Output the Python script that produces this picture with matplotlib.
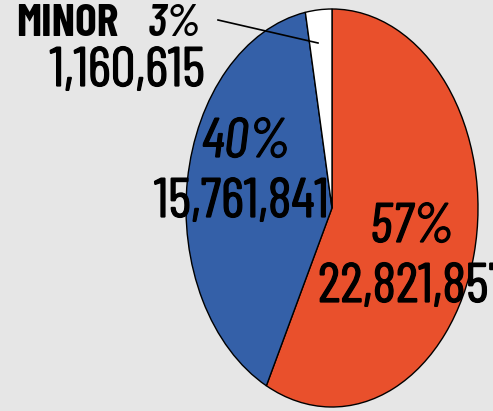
import matplotlib
matplotlib.use('Agg')
import matplotlib.pyplot as plt
import matplotlib.patheffects as pe
from matplotlib import font_manager

# values
labels = ['MAJOR', 'OTHER', 'MINOR']
values = [22821857, 15761841, 1160615]
colors = ['#E9502C', '#3460A8', '#FFFFFF']

names = {f.name for f in font_manager.fontManager.ttflist}
cond = next((n for n in ['Barlow Condensed', 'Roboto Condensed', 'Archivo Narrow']
             if n in names), 'DejaVu Sans')
fam = [cond, 'DejaVu Sans']
# slightly heavier strokes than the regular weight
thick = [pe.withStroke(linewidth=0.9, foreground='black')]

W, H = 493, 411
fig = plt.figure(figsize=(W / 100, H / 100), dpi=100)
fig.patch.set_facecolor('#E6E6E6')

# pie axes, stretched so the pie is an ellipse
cx, cy, rx, ry = 332, 208, 146, 199
ax = fig.add_axes([(cx - rx) / W, 1 - (cy + ry) / H, 2 * rx / W, 2 * ry / H])
ax.pie(values, colors=colors, startangle=90, counterclock=False,
       wedgeprops=dict(edgecolor='black', linewidth=1.0))
ax.set_aspect('auto')
ax.set_xlim(-1, 1)
ax.set_ylim(-1, 1)
ax.axis('off')

total = sum(values)
pct = [round(v / total * 100) for v in values]


def px(x, y):
    return x / W, 1 - y / H


fs = 40
# minor slice label
fig.text(*px(118, 24), 'MINOR', family=fam, fontsize=33, weight='bold',
         ha='right', va='center')
fig.text(*px(148, 24), f'{pct[2]}%', family=fam, fontsize=33, weight='semibold',
         style='italic', ha='left', va='center')
fig.text(*px(205, 72), f'{values[2]:,}', family=fam, fontsize=fs,
         ha='right', va='center', path_effects=thick)
fig.add_artist(plt.Line2D([218 / W, 318 / W], [1 - 20 / H, 1 - 43 / H],
                          color='black', linewidth=1.2))

# other slice
fig.text(*px(246, 143), f'{pct[1]}%', family=fam, fontsize=fs, style='italic',
         ha='center', va='center', path_effects=thick)
fig.text(*px(329, 203), f'{values[1]:,}', family=fam, fontsize=fs,
         ha='right', va='center', path_effects=thick)

# major slice
fig.text(*px(412, 228), f'{pct[0]}%', family=fam, fontsize=fs, style='italic',
         ha='center', va='center', path_effects=thick)
fig.text(*px(318, 288), f'{values[0]:,}', family=fam, fontsize=fs,
         ha='left', va='center', path_effects=thick)

fig.savefig('out.png', dpi=100, facecolor=fig.get_facecolor())
